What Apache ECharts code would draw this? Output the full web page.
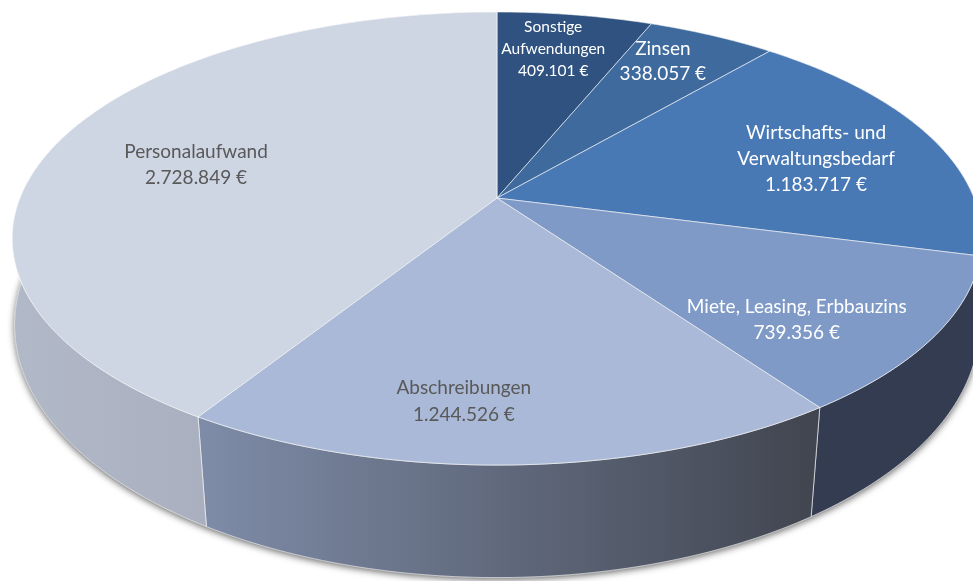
<!DOCTYPE html>
<html>
<head>
<meta charset="utf-8">
<style>html,body{margin:0;padding:0;background:#fff}#c{width:973px;height:581px}</style>
<script src="https://cdn.jsdelivr.net/npm/echarts@6/dist/echarts.min.js"></script>
</head>
<body>
<div id="c"></div>
<script>
const categories = ['Sonstige\nAufwendungen', 'Zinsen', 'Wirtschafts- und\nVerwaltungsbedarf', 'Miete, Leasing, Erbbauzins', 'Abschreibungen', 'Personalaufwand'];
const values = [409101, 338057, 1183717, 739356, 1244526, 2728849];
const topColors = ['#2f5280', '#3e6a9e', '#4879b5', '#7f9ac7', '#a9b9d7', '#ced5e3'];
const sideStops = [
  ['#1f3554', '#1f3554'], ['#28446a', '#28446a'], ['#2f3a52', '#2f3a52'],
  ['#333c50', '#333c50'], ['#7f8ca8', '#40454f'], ['#b1b8c8', '#9ea3b0']
];
const labelColors = ['#fff', '#fff', '#fff', '#fff', '#595959', '#595959'];
const labelSizes = [15.5, 19, 19, 19, 19, 19];
const labelLineHeights = [22, 25, 26, 26, 27, 26];
const labelRadius = [0.79, 0.81, 0.716, 0.761, 0.793, 0.668];
const labelAngleShift = [-1.3, -2.4, 2.3, 6.6, 5.9, -2.3];

const total = values.reduce((a, b) => a + b, 0);
const starts = [];
values.reduce((sum, v, i) => { starts[i] = sum; return sum + v; }, 0);

// perspective projection of the unit circle: top rim and bottom rim of the disc
const CX = 497;
const RIM_TOP = { cy: 198, a: 219.3, b: 477, k: 0.1788 };
const RIM_LOW = { cy: 287, a: 247, b: 477, k: 0.15 };
function project(rim, deg, r) {
  const t = deg * Math.PI / 180;
  const X = r * Math.sin(t), Y = -r * Math.cos(t), w = 1 - rim.k * Y;
  return [CX + rim.b * X / w, rim.cy + rim.a * Y / w];
}
function arc(rim, a0, a1) {
  const n = Math.max(2, Math.ceil(Math.abs(a1 - a0)));
  const pts = [];
  for (let i = 0; i <= n; i++) pts.push(project(rim, a0 + (a1 - a0) * i / n, 1));
  return pts;
}
function angles(i) {
  return [starts[i] / total * 360, (starts[i] + values[i]) / total * 360];
}
function money(v) {
  return String(v).replace(/\B(?=(\d{3})+$)/g, '.') + ' €';
}
const seriesData = values.map((v, i) => ({ name: categories[i], value: [v, i] }));
const EDGE = 'rgba(255,255,255,0.62)';

function renderBase(params) {
  if (params.dataIndex !== 0) return { type: 'group', children: [] };
  return {
    type: 'polygon',
    shape: { points: arc(RIM_LOW, 0, 360) },
    style: { fill: '#555', shadowBlur: 7, shadowColor: 'rgba(0,0,0,0.6)', shadowOffsetY: 2 }
  };
}
function renderSide(params, api) {
  const i = api.value(1);
  const [a0, a1] = angles(i);
  const upper = arc(RIM_TOP, a0, a1);
  const lower = arc(RIM_LOW, a0, a1);
  const xs = upper.concat(lower).map(p => p[0]);
  return {
    type: 'polygon',
    shape: { points: upper.concat(lower.slice().reverse()) },
    style: {
      fill: new echarts.graphic.LinearGradient(Math.min(...xs), 0, Math.max(...xs), 0, [
        { offset: 0, color: sideStops[i][0] }, { offset: 1, color: sideStops[i][1] }
      ], true),
      stroke: EDGE, lineWidth: 1
    }
  };
}
function renderTop(params, api) {
  const i = api.value(1);
  const [a0, a1] = angles(i);
  const centre = project(RIM_TOP, 0, 0);
  const pos = project(RIM_TOP, (a0 + a1) / 2 + labelAngleShift[i], labelRadius[i]);
  return {
    type: 'group',
    children: [{
      type: 'polygon',
      shape: { points: [centre].concat(arc(RIM_TOP, a0, a1)) },
      style: { fill: topColors[i], stroke: EDGE, lineWidth: 1 }
    }, {
      type: 'text',
      z2: 10,
      style: {
        text: categories[i] + '\n' + money(api.value(0)),
        x: pos[0], y: pos[1] + 1,
        fill: labelColors[i],
        fontFamily: 'Lato, Carlito, sans-serif',
        fontSize: labelSizes[i],
        lineHeight: labelLineHeights[i],
        align: 'center', verticalAlign: 'middle'
      }
    }]
  };
}
function layer(renderItem, z) {
  return { type: 'custom', coordinateSystem: 'none', renderItem, data: seriesData, z, silent: true, animation: false, clip: false };
}
const chart = echarts.init(document.getElementById('c'), null, { renderer: 'canvas' });
chart.setOption({
  animation: false,
  backgroundColor: '#fff',
  series: [layer(renderBase, 1), layer(renderSide, 2), layer(renderTop, 3)]
});
</script>
</body>
</html>
